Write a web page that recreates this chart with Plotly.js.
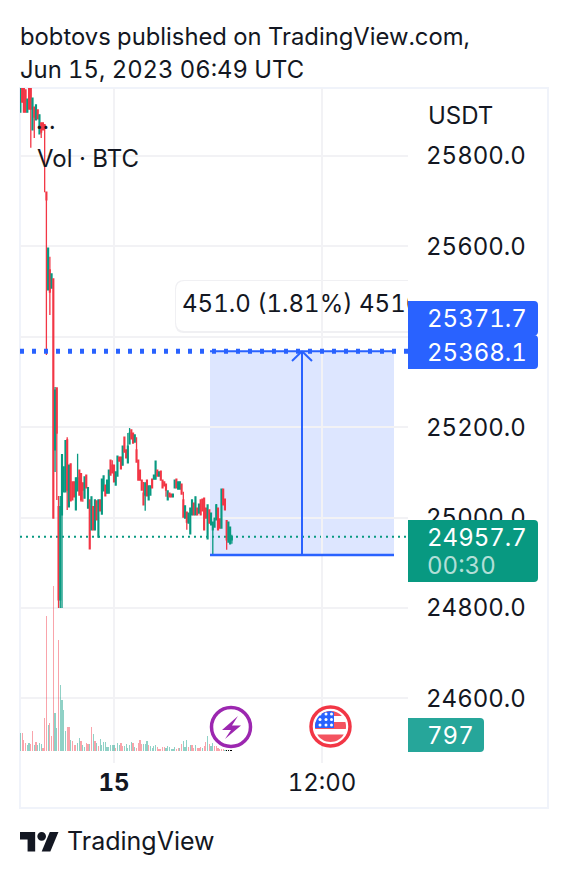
<!DOCTYPE html>
<html>
<head>
<meta charset="utf-8">
<script src="https://cdn.plot.ly/plotly-3.0.1.min.js"></script>
<style>html,body{margin:0;padding:0;background:#fff;overflow:hidden}#chart{width:568px;height:878px}
#chart text{font-feature-settings:"tnum" 1;font-variant-numeric:tabular-nums}</style>
</head>
<body>
<div id="chart"></div>
<script>
// --- data ---
const firstHour = -5.4, stepHour = 0.1;   // bar spacing along the time axis, hours from "15"
const open = [25897,25957,25957,25946,25897,25957,25950,25858,25908,25880,25902,25849,25873,25873,25869,25720,25504,25548,25508,25528,25150,25287,25024,24818,25006,25057,25057,25172,25024,25119,25079,25079,25017,25059,25105,25097,25077,25043,25094,25021,25039,24973,25024,24973,25037,24957,25039,25008,25059,25072,25054,25054,25127,25116,25116,25072,25092,25134,25134,25116,25178,25150,25121,25163,25194,25187,25167,25150,25127,25105,25083,25054,25050,25083,25039,25050,25085,25085,25085,25105,25092,25103,25083,25079,25074,25039,25054,25052,25046,25066,25085,25063,25063,25074,25039,24999,25012,24988,24964,25006,25032,25006,25021,25010,25039,25041,25043,25021,24953,25017,24984,24973,24979,24995,25021,24997,24977,25063,25041,24993,24946,24942,24951];
const high = [25957,25957,25957,25946,25926,25957,25950,25928,25908,25913,25902,25891,25873,25873,25871,25720,25596,25577,25539,25528,25289,25287,25048,25048,25139,25112,25170,25178,25116,25119,25079,25079,25088,25141,25105,25097,25077,25090,25094,25066,25039,25046,25024,25039,25037,25039,25039,25085,25092,25072,25083,25105,25127,25127,25116,25101,25136,25134,25134,25158,25178,25150,25187,25198,25194,25187,25183,25178,25127,25105,25083,25079,25077,25083,25070,25070,25085,25094,25125,25105,25101,25103,25083,25079,25074,25059,25054,25052,25052,25083,25085,25079,25079,25074,25057,25026,25012,25010,25021,25039,25032,25046,25021,25030,25039,25041,25043,25021,25028,25017,25010,24990,24999,25030,25021,24997,25063,25063,25041,24993,24990,24979,24962];
const low = [25897,25919,25897,25897,25897,25904,25818,25858,25840,25880,25882,25849,25840,25858,25720,25360,25504,25448,25508,24999,25101,25039,24800,24800,24800,25057,25057,25017,25024,25037,25039,25046,25017,25059,25050,25035,25035,25043,25066,25021,24931,24973,24973,24973,24995,24957,25015,25008,25059,25048,25054,25054,25094,25099,25079,25072,25092,25125,25108,25116,25145,25132,25121,25163,25174,25165,25167,25123,25083,25083,25061,25028,25015,25048,25039,25050,25066,25085,25085,25092,25092,25083,25066,25070,25046,25039,25046,25046,25046,25066,25066,25063,25063,25052,25001,24999,24973,24988,24964,25006,25006,25006,25006,25010,25006,25015,24973,24999,24953,24988,24984,24915,24979,24995,24973,24977,24977,25028,25017,24929,24946,24942,24942];
const close = [25957,25919,25897,25897,25926,25904,25904,25928,25886,25913,25882,25891,25853,25858,25862,25703,25596,25499,25539,24999,25282,25187,24818,25024,25139,25112,25170,25061,25116,25037,25039,25046,25088,25088,25050,25039,25061,25090,25066,25066,24931,25046,24973,25039,24995,25039,25015,25085,25092,25048,25083,25105,25094,25099,25079,25101,25136,25125,25108,25158,25145,25132,25158,25187,25174,25165,25183,25123,25083,25083,25061,25028,25077,25048,25070,25070,25066,25094,25125,25092,25101,25083,25066,25070,25061,25059,25046,25046,25052,25083,25066,25079,25079,25052,25001,25026,24990,25010,25021,25039,25006,25046,25006,25030,25006,25015,24973,24999,25028,24988,25010,24990,24999,25028,24973,24977,25063,25028,25017,24951,24990,24979,24957.7];
const volume = [880,880,550,380,300,380,350,1000,300,430,300,380,350,130,1630,6750,1300,1380,750,8250,1880,1130,5550,3300,2550,2050,1000,1220,1200,550,500,300,300,380,630,500,300,220,380,330,330,1220,850,500,380,270,600,280,450,450,220,220,280,300,300,170,380,300,380,270,270,350,130,280,450,380,220,170,380,550,350,350,350,500,300,270,170,250,280,220,120,120,200,200,170,250,180,100,100,180,120,150,150,350,500,200,550,200,300,300,170,300,170,170,200,170,250,470,750,350,270,380,270,250,170,120,100,80,70,50,50,50,50];
const volumeSide = "GRRRGGRRGRGGGRRRGRRRGGRGGGGRRGRRRGGRGGRRGRGRGRGGGGGGGGGRGGRRGGGGGRGRRRRGGGRGGGGRRRRRGGGGGGRRGRGGGRGRRGRRRGRRGRGGRRRRRRG";
const priceTicks = [25800,25600,25400,25200,25000,24800,24600];
const priceTickText = ["25800.0","25600.0","","25200.0","25000.0","24800.0","24600.0"];
const timeTicks = [0,12];
const timeTickText = ["<b>15</b>","12:00"];
const lastPrice = 24957.7, targetPrice = 25368.1, targetLabel = "25371.7", entryPrice = 24917.1;

// --- page geometry (decoration only) ---
const L=20,R=408,T=88,B=763, W=R-L,H=B-T;
const xMin=(L-114)/(208/12), xMax=(R-114)/(208/12);
const yPerPx=200/90.4, yMax=25800+(156-T)*yPerPx, yMin=25800-(B-156)*yPerPx;
const px=x=>(x-L)/W, py=y=>(B-y)/H;            // pixel -> paper
const dx=x=>(x-114)/(208/12), dy=y=>25800-(y-156)*yPerPx; // pixel -> data

const hours = open.map((_,i)=>firstHour+stepHour*i);
const GREEN='#089981', RED='#f23645', BLUE='#2962ff', INK='#131722', GRID='#f2f2f5';
const FONT='Inter, sans-serif';

function poly(pts){return 'M'+pts.map(p=>px(p[0]).toFixed(5)+','+py(p[1]).toFixed(5)).join(' L')+' Z';}
function pshape(path,fill,extra){return Object.assign({type:'path',xref:'paper',yref:'paper',path,fillcolor:fill,line:{width:0},layer:'above'},extra||{});}
function rightRound(x0,y0,x1,y1,r){
  const P=(x,y)=>px(x).toFixed(5)+','+py(y).toFixed(5);
  return `M${P(x0,y0)} L${P(x1-r,y0)} Q${P(x1,y0)} ${P(x1,y0+r)} L${P(x1,y1-r)} Q${P(x1,y1)} ${P(x1-r,y1)} L${P(x0,y1)} Z`;
}
function chord(cx,cy,r,y0,y1,xmax){ // polygon: circle clipped to a band
  const pts=[];const n=14;
  for(let k=0;k<=n;k++){const y=y0+(y1-y0)*k/n;const d=Math.sqrt(Math.max(0,r*r-(y-cy)*(y-cy)));pts.push([Math.min(cx+d,xmax===undefined?1e9:xmax),y]);}
  for(let k=n;k>=0;k--){const y=y0+(y1-y0)*k/n;const d=Math.sqrt(Math.max(0,r*r-(y-cy)*(y-cy)));pts.push([cx-d,y]);}
  return poly(pts);
}
function circle(cx,cy,r,fill,lineColor,lw){
  return {type:'circle',xref:'paper',yref:'paper',x0:px(cx-r),x1:px(cx+r),y0:py(cy+r),y1:py(cy-r),
    fillcolor:fill,line:{color:lineColor||'rgba(0,0,0,0)',width:lw||0},layer:'above'};
}
function txt(text,x,y,size,color,anchor,weight){
  return {text,xref:'paper',yref:'paper',x:px(x),y:py(y),xanchor:anchor||'left',yanchor:'middle',showarrow:false,borderpad:0,borderwidth:0,
    font:{family:FONT,size,color,weight:weight||400},align:'left'};
}

const FS=24;
const shapes=[];
// outer frame
shapes.push({type:'rect',xref:'paper',yref:'paper',x0:px(20),x1:px(548),y0:py(808),y1:py(88),line:{color:'#f0f3fa',width:2},fillcolor:'rgba(0,0,0,0)',layer:'below'});
// tooltip box
{
  const P=(x,y)=>dx(x)+','+dy(y);
  const r=9,x0=176,x1=408,y0=281,y1=331;
  shapes.push({type:'path',xref:'x',yref:'y',layer:'below',fillcolor:'#f0f0f3',line:{width:0},
    path:`M${P(x1,y0-1)} L${P(x0+r-1,y0-1)} Q${P(x0-1,y0-1)} ${P(x0-1,y0+r-1)} L${P(x0-1,y1-r+1)} Q${P(x0-1,y1+2)} ${P(x0+r-1,y1+2)} L${P(x1,y1+2)} Z`});
  shapes.push({type:'path',xref:'x',yref:'y',layer:'below',fillcolor:'#ffffff',line:{width:0},
    path:`M${P(x1,y0)} L${P(x0+r,y0)} Q${P(x0,y0)} ${P(x0,y0+r)} L${P(x0,y1-r)} Q${P(x0,y1)} ${P(x0+r,y1)} L${P(x1,y1)} Z`});
}
// measuring box
shapes.push({type:'rect',xref:'x',yref:'y',x0:dx(210),x1:dx(394),y0:entryPrice,y1:targetPrice,fillcolor:'rgba(41,98,255,0.16)',line:{width:0},layer:'below'});
// price lines
shapes.push({type:'line',xref:'x',yref:'y',x0:xMin,x1:xMax,y0:lastPrice,y1:lastPrice,line:{color:GREEN,width:2,dash:'2px,4px'},layer:'below'});
shapes.push({type:'line',xref:'x',yref:'y',x0:xMin,x1:xMax,y0:targetPrice,y1:targetPrice,line:{color:BLUE,width:5,dash:'4px,8px'},layer:'above'});
shapes.push({type:'line',xref:'x',yref:'y',x0:dx(210),x1:dx(394),y0:targetPrice,y1:targetPrice,line:{color:BLUE,width:2},layer:'above'});
shapes.push({type:'line',xref:'x',yref:'y',x0:dx(210),x1:dx(394),y0:entryPrice,y1:entryPrice,line:{color:BLUE,width:2.5},layer:'above'});
shapes.push({type:'line',xref:'x',yref:'y',x0:dx(302),x1:dx(302),y0:entryPrice,y1:targetPrice,line:{color:BLUE,width:2},layer:'above'});
shapes.push({type:'line',xref:'x',yref:'y',x0:dx(292),x1:dx(302),y0:dy(361),y1:targetPrice,line:{color:BLUE,width:2},layer:'above'});
shapes.push({type:'line',xref:'x',yref:'y',x0:dx(312),x1:dx(302),y0:dy(361),y1:targetPrice,line:{color:BLUE,width:2},layer:'above'});
// price-scale labels
shapes.push(pshape(rightRound(408,301,538,335.5,4),BLUE));
shapes.push(pshape(rightRound(408,335,538,369,4),BLUE));
shapes.push(pshape(rightRound(408,520,538,582,4),GREEN));
shapes.push(pshape(rightRound(408,718,484,752,4),'#26a69a'));
// lightning icon
shapes.push(circle(231,727,19.5,'#ffffff','#9c27b0',3.5));
shapes.push(pshape(poly([[238,716],[222,730],[231,730],[225,739],[241,725.5],[232,725.5]]),'#9c27b0'));
// flag icon
shapes.push(circle(330.5,726.5,19.5,'#ffffff',RED,3.5));
const fc=[330.5,726.5,15.5];
shapes.push(pshape(chord(fc[0],fc[1],fc[2],711,716,400),'#f4535f'));
shapes.push(pshape(chord(fc[0],fc[1],fc[2],722,729,400),'#f4535f'));
shapes.push(pshape(chord(fc[0],fc[1],fc[2],734.5,742,400),'#f4535f'));
shapes.push(pshape(chord(fc[0],fc[1],fc[2],711,728,334),'#2962ff'));
[714,719.5,725].forEach(y=>[320,326,331.5].forEach(x=>shapes.push(circle(x,y,1.5,'#ffffff'))));
// TradingView logo
{
  const s=39/36, ox=20, oy=827.7, m=(x,y)=>[ox+x*s,oy+y*s];
  shapes.push(pshape(poly([[14,22],[7,22],[7,11],[0,11],[0,4],[14,4]].map(p=>m(p[0],p[1]))),INK));
  shapes.push(pshape(poly([[28,22],[20,22],[27.5,4],[35.5,4]].map(p=>m(p[0],p[1]))),INK));
  const c=m(20,8); shapes.push(circle(c[0],c[1],4*s,INK));
}

const annotations=[
  txt('bobtovs published on TradingView.com,',20,36,23.8,INK),
  txt('Jun 15, 2023 06:49 UTC',20,69.5,23.8,INK),
  txt('USDT',428,115,FS,INK),
  txt('...',36,121,FS,INK),
  txt('Vol · BTC',36.5,158,FS,INK),
  txt(targetLabel,426.5,318,FS,'#ffffff'),
  txt(targetPrice.toFixed(1),426.5,352,FS,'#ffffff'),
  txt(lastPrice.toFixed(1),426.5,537,FS,'#ffffff'),
  txt('00:30',426.5,565,FS,'rgba(255,255,255,0.7)'),
  txt('797',426.5,735,FS,'#ffffff'),
  txt('TradingView',67,841,FS+1,INK)
];

const data=[
  {type:'bar',x:hours,y:volume,yaxis:'y2',width:0.07,hoverinfo:'skip',
   marker:{color:volumeSide.split('').map(s=>s==='G'?'rgba(8,153,129,0.45)':'rgba(242,54,69,0.45)'),line:{width:0}}},
  {type:'candlestick',x:hours,open,high,low,close,hoverinfo:'skip',
   increasing:{line:{color:GREEN,width:1.3},fillcolor:GREEN},
   decreasing:{line:{color:RED,width:1.3},fillcolor:RED},whiskerwidth:0},
  {type:'scatter',mode:'text',x:[dx(182)],y:[dy(306)],text:['451.0 (1.81%) 4510'],textposition:'middle right',cliponaxis:true,
   textfont:{family:FONT,size:FS,color:INK},hoverinfo:'skip'}
];

const layout={
  width:568,height:878,paper_bgcolor:'#ffffff',plot_bgcolor:'rgba(0,0,0,0)',showlegend:false,
  margin:{l:L,r:568-R,t:T,b:878-B,pad:0},dragmode:false,hovermode:false,bargap:0,barmode:'overlay',
  font:{family:FONT,color:INK,size:FS},
  xaxis:{type:'linear',range:[xMin,xMax],rangeslider:{visible:false},tickmode:'array',tickvals:timeTicks,ticktext:timeTickText,
    showgrid:true,gridcolor:GRID,gridwidth:2,zeroline:false,showline:false,ticks:'',ticklabelstandoff:3,
    tickfont:{family:FONT,size:FS,color:INK},fixedrange:true},
  yaxis:{type:'linear',range:[yMin,yMax],side:'right',tickmode:'array',tickvals:priceTicks,ticktext:priceTickText,
    showgrid:true,gridcolor:GRID,gridwidth:2,zeroline:false,showline:false,ticks:'',ticklabelstandoff:17,
    tickfont:{family:FONT,size:FS,color:INK},fixedrange:true},
  yaxis2:{overlaying:'y',side:'right',range:[-600,33150],showgrid:false,zeroline:false,showticklabels:false,ticks:'',showline:false,fixedrange:true},
  shapes,annotations
};
Plotly.newPlot('chart',data,layout,{displayModeBar:false,staticPlot:true});
</script>
</body>
</html>
